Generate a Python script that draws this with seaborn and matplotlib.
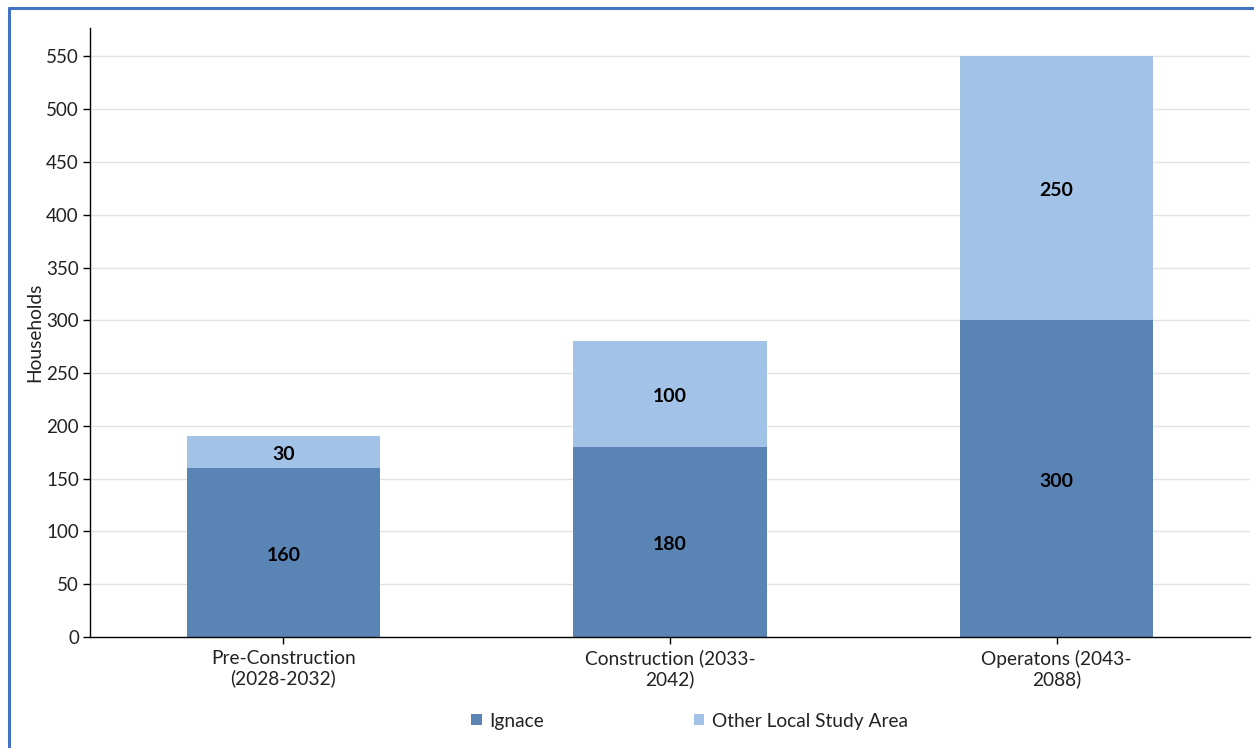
import matplotlib
matplotlib.use("Agg")
import matplotlib.pyplot as plt
import matplotlib.transforms as mtransforms
from matplotlib.lines import Line2D
from matplotlib.patches import Patch
import seaborn as sns
import pandas as pd

# Households by project phase
phases = ["Pre-Construction\n(2028-2032)", "Construction (2033-\n2042)", "Operatons (2043-\n2088)"]
ignace = [160, 180, 300]
other_lsa = [30, 100, 250]
series_names = ["Ignace", "Other Local Study Area"]
y_ticks = [0, 50, 100, 150, 200, 250, 300, 350, 400, 450, 500, 550]

dark_blue = "#5A84B4"
light_blue = "#A3C2E7"

sns.set_theme(style="white")
plt.rcParams["font.family"] = ["Lato", "DejaVu Sans"]

fig = plt.figure(figsize=(12.54, 7.48), dpi=100)
ax = fig.add_axes([90 / 1254, 1 - 637 / 748, 1160 / 1254, (637 - 28) / 748])

df = pd.DataFrame({"phase": phases, "ignace": ignace, "other": other_lsa})

sns.barplot(data=df, x="phase", y="ignace", color=dark_blue, width=0.5,
            saturation=1, ax=ax, linewidth=0, zorder=2)
sns.barplot(data=df, x="phase", y="other", color=light_blue, width=0.5,
            saturation=1, ax=ax, linewidth=0, bottom=df["ignace"], zorder=2)

# Segment value labels, nudged slightly downward
label_tr = mtransforms.offset_copy(ax.transData, fig=fig, x=0, y=-2.5, units="dots")
for i, (a, b) in enumerate(zip(ignace, other_lsa)):
    ax.text(i, a / 2, f"{a}", ha="center", va="center", fontsize=14,
            fontweight="bold", color="black", zorder=3, transform=label_tr)
    ax.text(i, a + b / 2, f"{b}", ha="center", va="center", fontsize=14,
            fontweight="bold", color="black", zorder=3, transform=label_tr)

ax.set_xlim(-0.5, 2.5)
ax.set_ylim(0, 577)
ax.set_yticks(y_ticks)
ax.yaxis.grid(True, color="#E3E3E3", linewidth=1, zorder=0)
ax.set_axisbelow(True)

for side in ["top", "right"]:
    ax.spines[side].set_visible(False)
for side in ["left", "bottom"]:
    ax.spines[side].set_color("black")
    ax.spines[side].set_linewidth(1)

ax.tick_params(axis="both", which="both", direction="out", length=5, width=1,
               color="black", labelsize=13.5, labelcolor="#222222", pad=3,
               left=True, bottom=True)
ax.tick_params(axis="x", labelsize=13.8, pad=4)
ax.set_xlabel("")
ax.set_ylabel("Households", fontsize=13.8, color="#222222", labelpad=2)

handles = [Patch(facecolor=dark_blue, edgecolor="none"),
           Patch(facecolor=light_blue, edgecolor="none")]
fig.legend(handles, series_names, loc="center", bbox_to_anchor=(0.5500, 1 - 721 / 748),
           ncol=2, frameon=False, fontsize=13.8, handlelength=0.55, handleheight=0.55,
           handletextpad=0.4, columnspacing=7.8, labelcolor="#222222")

# Blue frame lines along the top and left edge
fig.add_artist(Line2D([9 / 1254, 9 / 1254], [0, 1 - 8 / 748], color="#4472C4",
                      linewidth=2.2, transform=fig.transFigure))
fig.add_artist(Line2D([9 / 1254, 1], [1 - 8 / 748, 1 - 8 / 748], color="#4472C4",
                      linewidth=2.2, transform=fig.transFigure))

fig.savefig("out.png", dpi=100)
